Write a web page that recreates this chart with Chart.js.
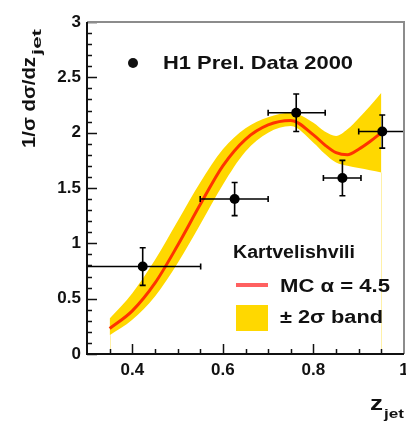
<!DOCTYPE html>
<html>
<head>
<meta charset="utf-8">
<script src="https://cdn.jsdelivr.net/npm/chart.js@4/dist/chart.umd.min.js"></script>
<style>
html,body{margin:0;padding:0;background:#fff;}
canvas{display:block;}
</style>
</head>
<body>
<canvas id="c" width="406" height="421"></canvas>
<script>
// ---- data ----
const dataZ      = [0.423, 0.626, 0.762, 0.864, 0.952];
const dataY      = [0.79, 1.40, 2.18, 1.59, 2.01];
const dataXLow   = [0.30, 0.55, 0.70, 0.822, 0.90];
const dataXHigh  = [0.551, 0.70, 0.826, 0.905, 1.00];
const dataYErr   = [0.17, 0.15, 0.17, 0.16, 0.15];

const curveZ     = [0.35, 0.40, 0.45, 0.50, 0.55, 0.60, 0.65, 0.70, 0.75, 0.80, 0.825, 0.85, 0.875, 0.90, 0.925, 0.95];
const mcCurve    = [0.23, 0.39, 0.64, 0.98, 1.35, 1.70, 1.94, 2.07, 2.11, 1.98, 1.89, 1.82, 1.80, 1.85, 1.92, 2.00];
const bandLow    = [0.17, 0.31, 0.52, 0.82, 1.17, 1.53, 1.83, 2.00, 2.06, 1.91, 1.81, 1.73, 1.70, 1.68, 1.66, 1.64];
const bandHigh   = [0.32, 0.55, 0.85, 1.20, 1.55, 1.85, 2.04, 2.14, 2.18, 2.09, 2.01, 1.97, 2.03, 2.13, 2.24, 2.36];

const xTickValues = [0.4, 0.6, 0.8, 1.0];
const yTickValues = [0, 0.5, 1, 1.5, 2, 2.5, 3];

const legendData  = 'H1 Prel. Data 2000';
const legendModel = 'Kartvelishvili';
const legendMC    = 'MC \u03B1 = 4.5';
const legendBand  = '\u00B1 2\u03C3 band';

const YELLOW = '#ffd800';
const RED = '#ff3300';

function stretchText(ctx, text, x, y, font, targetW) {
  ctx.font = font;
  const w = ctx.measureText(text).width;
  ctx.save();
  ctx.translate(x, y);
  ctx.scale(targetW / w, 1);
  ctx.textAlign = 'left';
  ctx.textBaseline = 'alphabetic';
  ctx.fillText(text, 0, 0);
  ctx.restore();
}

const decor = {
  id: 'decor',
  beforeDatasetsDraw(chart) {
    const {ctx, scales: {x, y}} = chart;
    ctx.save();
    ctx.strokeStyle = '#fff1a8';
    ctx.lineWidth = 1;
    [0, curveZ.length - 1].forEach(i => {
      const px = Math.round(x.getPixelForValue(curveZ[i])) + 0.5;
      ctx.beginPath();
      ctx.moveTo(px, y.getPixelForValue(bandLow[i]));
      ctx.lineTo(px, y.getPixelForValue(0));
      ctx.stroke();
    });
    ctx.restore();
  },
  afterDatasetsDraw(chart) {
    const {ctx, chartArea: a, scales: {x, y}} = chart;
    ctx.save();
    ctx.strokeStyle = '#000';
    ctx.lineWidth = 1.6;
    ctx.beginPath();
    ctx.rect(a.left, a.top, a.right - a.left, a.bottom - a.top);
    ctx.clip();
    for (let i = 0; i < dataZ.length; i++) {
      const px = x.getPixelForValue(dataZ[i]);
      const py = y.getPixelForValue(dataY[i]);
      const x0 = x.getPixelForValue(dataXLow[i]);
      const x1 = x.getPixelForValue(dataXHigh[i]);
      const y0 = y.getPixelForValue(dataY[i] - dataYErr[i]);
      const y1 = y.getPixelForValue(dataY[i] + dataYErr[i]);
      ctx.beginPath();
      ctx.moveTo(x0, py); ctx.lineTo(x1, py);
      ctx.moveTo(x0, py - 3); ctx.lineTo(x0, py + 3);
      ctx.moveTo(x1, py - 3); ctx.lineTo(x1, py + 3);
      ctx.moveTo(px, y0); ctx.lineTo(px, y1);
      ctx.moveTo(px - 3, y0); ctx.lineTo(px + 3, y0);
      ctx.moveTo(px - 3, y1); ctx.lineTo(px + 3, y1);
      ctx.stroke();
      ctx.beginPath();
      ctx.arc(px, py, 5, 0, Math.PI * 2);
      ctx.fillStyle = '#000';
      ctx.fill();
    }
    ctx.restore();

    ctx.save();
    ctx.strokeStyle = '#111';
    ctx.lineWidth = 1.5;
    ctx.beginPath();
    for (let k = 0; k <= 30; k++) {
      const v = k / 10;
      const py = Math.round(y.getPixelForValue(v)) + 0.5;
      const len = (k % 5 === 0) ? 10 : 5;
      ctx.moveTo(a.left, py); ctx.lineTo(a.left + len, py);
    }
    for (let k = 7; k <= 19; k++) {
      const v = k / 20;
      const px = Math.round(x.getPixelForValue(v)) + 0.5;
      const len = (k % 4 === 0) ? 10 : 5;
      ctx.moveTo(px, a.bottom); ctx.lineTo(px, a.bottom - len);
    }
    ctx.stroke();
    ctx.lineWidth = 2;
    ctx.strokeStyle = '#8c8c8c';
    ctx.beginPath();
    ctx.moveTo(a.left, a.top); ctx.lineTo(a.right, a.top); ctx.lineTo(a.right, a.bottom);
    ctx.stroke();
    ctx.strokeStyle = '#111';
    ctx.beginPath();
    ctx.moveTo(a.left, a.top); ctx.lineTo(a.left, a.bottom); ctx.lineTo(a.right, a.bottom);
    ctx.stroke();

    ctx.fillStyle = '#111';
    ctx.beginPath();
    ctx.arc(133, 63, 5, 0, Math.PI * 2);
    ctx.fill();
    stretchText(ctx, legendData, 163, 69, 'bold 19px "Liberation Sans", Arial, sans-serif', 190);
    stretchText(ctx, legendModel, 233, 258, 'bold 18px "Liberation Sans", Arial, sans-serif', 122);
    ctx.strokeStyle = '#ff6060';
    ctx.lineWidth = 4;
    ctx.beginPath(); ctx.moveTo(236, 285); ctx.lineTo(268, 285); ctx.stroke();
    ctx.fillStyle = '#111';
    stretchText(ctx, legendMC, 280, 292, 'bold 18px "Liberation Sans", Arial, sans-serif', 110);
    ctx.fillStyle = YELLOW;
    ctx.fillRect(236, 305, 32, 26);
    ctx.fillStyle = '#111';
    stretchText(ctx, legendBand, 280, 323, 'bold 18px "Liberation Sans", Arial, sans-serif', 103);

    ctx.save();
    ctx.translate(35, 148);
    ctx.rotate(-Math.PI / 2);
    stretchText(ctx, '1/\u03C3 d\u03C3/dz', 0, 0, 'bold 19px "Liberation Sans", Arial, sans-serif', 91);
    stretchText(ctx, 'jet', 93, 6, 'bold 12px "Liberation Sans", Arial, sans-serif', 26);
    ctx.restore();
    stretchText(ctx, 'z', 370, 410, 'bold 21px "Liberation Sans", Arial, sans-serif', 13);
    stretchText(ctx, 'jet', 384, 418, 'bold 12px "Liberation Sans", Arial, sans-serif', 20);
    ctx.restore();
  }
};

const pts = (xs, ys) => xs.map((v, i) => ({x: v, y: ys[i]}));

new Chart(document.getElementById('c'), {
  type: 'scatter',
  data: {
    datasets: [
      {type: 'line', data: pts(curveZ, bandLow), borderWidth: 0, pointRadius: 0, fill: false, cubicInterpolationMode: 'monotone', order: 3},
      {type: 'line', data: pts(curveZ, bandHigh), borderWidth: 0, pointRadius: 0, fill: '-1', backgroundColor: YELLOW, cubicInterpolationMode: 'monotone', order: 2},
      {type: 'line', data: pts(curveZ, mcCurve), borderColor: RED, borderWidth: 3, pointRadius: 0, fill: false, cubicInterpolationMode: 'monotone', order: 1},
      {type: 'scatter', data: pts(dataZ, dataY), pointRadius: 0, backgroundColor: '#000', order: 0}
    ]
  },
  options: {
    responsive: false,
    devicePixelRatio: 1,
    animation: false,
    events: [],
    layout: {padding: {top: 22, right: 2, left: 0, bottom: 0}},
    plugins: {legend: {display: false}, tooltip: {enabled: false}},
    scales: {
      x: {
        type: 'linear', min: 0.3, max: 1.0,
        grid: {display: false, drawTicks: false},
        border: {display: false},
        afterBuildTicks: s => { s.ticks = xTickValues.map(v => ({value: v})); },
        afterFit: s => { s.height = 67; s.paddingLeft = 0; s.paddingRight = 0; },
        ticks: {
          color: '#111', padding: 6, maxRotation: 0, autoSkip: false,
          font: {family: '"Liberation Sans", Arial, sans-serif', size: 17, weight: 'bold'},
          callback: v => String(Math.round(v * 10) / 10)
        }
      },
      y: {
        type: 'linear', min: 0, max: 3,
        grid: {display: false, drawTicks: false},
        border: {display: false},
        afterBuildTicks: s => { s.ticks = yTickValues.map(v => ({value: v})); },
        afterFit: s => { s.width = 87; s.paddingTop = 0; s.paddingBottom = 0; },
        ticks: {
          color: '#111', padding: 6, autoSkip: false,
          font: {family: '"Liberation Sans", Arial, sans-serif', size: 17, weight: 'bold'},
          callback: v => String(v)
        }
      }
    }
  },
  plugins: [decor]
});
</script>
</body>
</html>
